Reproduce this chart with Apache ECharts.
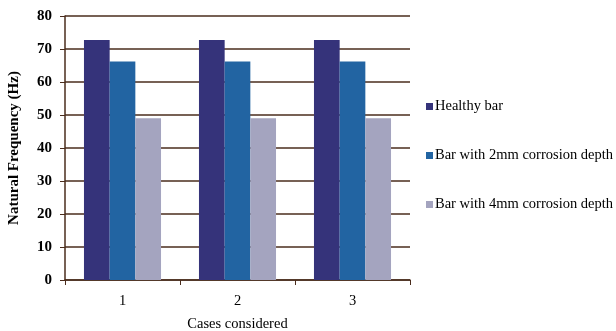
<!DOCTYPE html>
<html><head><meta charset="utf-8">
<script src="https://cdn.jsdelivr.net/npm/echarts@6/dist/echarts.min.js"></script>
<style>html,body{margin:0;padding:0;background:#fff}#c{width:616px;height:331px}</style>
</head><body><div id="c"></div>
<script>
const categories = ['1', '2', '3'];
const healthy = [72.7, 72.7, 72.7];
const corr2mm = [66.2, 66.2, 66.2];
const corr4mm = [49.0, 49.0, 49.0];
const seriesNames = ['Healthy bar', 'Bar with 2mm corrosion depth', 'Bar with 4mm corrosion depth'];
const colors = ['#35337a', '#2264a2', '#a4a4bf'];
const font = 'Liberation Serif, Times New Roman, serif';
const brown = '#4a2c1c';

const chart = echarts.init(document.getElementById('c'), null, {renderer: 'canvas'});
chart.setOption({
  animation: false,
  textStyle: {fontFamily: font},
  grid: {left: 65, right: 206, top: 16, bottom: 51, containLabel: false, outerBoundsMode: 'none'},
  legend: {
    orient: 'vertical', left: 421, top: 94, itemGap: 34,
    itemWidth: 7, itemHeight: 7, icon: 'rect',
    textStyle: {fontFamily: font, fontSize: 14.5, color: '#000', padding: [0, 0, 0, -3]},
    data: seriesNames
  },
  xAxis: {
    type: 'category', data: categories,
    name: 'Cases considered', nameLocation: 'middle', nameGap: 37,
    nameTextStyle: {fontFamily: font, fontSize: 14.5, color: '#000'},
    axisLine: {lineStyle: {color: brown, width: 1.5}},
    axisTick: {show: true, length: 5, lineStyle: {color: brown}},
    axisLabel: {fontFamily: font, fontSize: 14.5, color: '#000', margin: 14}
  },
  yAxis: {
    type: 'value', min: 0, max: 80, interval: 10,
    name: 'Natural Frequency (Hz)', nameLocation: 'middle', nameGap: 43,
    nameTextStyle: {fontFamily: font, fontSize: 15, fontWeight: 'bold', color: '#000'},
    axisLine: {show: true, lineStyle: {color: brown, width: 1.5}},
    axisTick: {show: true, length: 5, lineStyle: {color: brown}},
    axisLabel: {fontFamily: font, fontSize: 15, fontWeight: 'bold', color: '#000', margin: 13},
    splitLine: {lineStyle: {color: brown, width: 1.5}}
  },
  series: [
    {name: seriesNames[0], type: 'bar', data: healthy, itemStyle: {color: colors[0]}, barGap: '0%', barCategoryGap: '33%'},
    {name: seriesNames[1], type: 'bar', data: corr2mm, itemStyle: {color: colors[1]}},
    {name: seriesNames[2], type: 'bar', data: corr4mm, itemStyle: {color: colors[2]}}
  ]
});
</script></body></html>
